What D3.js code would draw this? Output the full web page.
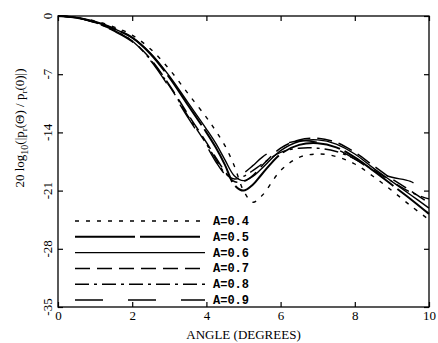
<!DOCTYPE html>
<html>
<head>
<meta charset="utf-8">
<script src="https://cdn.jsdelivr.net/npm/d3@7"></script>
<style>
  body { margin: 0; background: #fff; }
  svg { display: block; }
  text { font-family: "Liberation Serif", "DejaVu Serif", serif; fill: #000; }
</style>
</head>
<body>
<div id="chart"></div>
<script>
// angle grid (degrees)
const angles = [0, 0.5, 1, 1.5, 2, 2.5, 3, 3.5, 4, 4.25, 4.5, 4.75, 5, 5.25, 5.5, 6, 6.5, 7, 7.5, 8, 8.5, 9, 9.5, 10];

// level in dB for each A value
const a04 = [0, -0.2, -0.6, -1.3, -2.3, -4.0, -6.4, -9.3, -12.2, -13.8, -15.6, -18.0, -21.0, -22.4, -21.6, -18.6, -17.0, -16.6, -16.9, -17.8, -19.3, -21.0, -22.8, -24.5];
const a05 = [0, -0.2, -0.7, -1.5, -2.6, -4.6, -7.4, -10.7, -14.0, -15.8, -17.9, -20.3, -21.0, -20.3, -19.0, -16.6, -15.5, -15.3, -15.8, -17.0, -18.6, -20.3, -22.0, -23.8];
const a06 = [0, -0.2, -0.7, -1.5, -2.6, -4.5, -7.2, -10.4, -13.6, -15.3, -17.3, -19.2, -19.8, -19.3, -18.3, -16.2, -15.1, -14.9, -15.4, -16.6, -18.3, -19.9, -21.5, -23.1];
const a07 = [0, -0.2, -0.8, -1.7, -3.0, -5.2, -8.3, -11.8, -15.2, -17.0, -18.7, -19.9, -19.9, -19.2, -18.0, -15.9, -14.9, -14.7, -15.2, -16.4, -18.0, -19.6, -21.0, -22.5];
const a08 = [0, -0.2, -0.8, -1.7, -3.0, -5.3, -8.4, -12.0, -15.4, -17.2, -18.9, -19.6, -19.3, -18.6, -17.8, -16.4, -15.9, -15.9, -16.3, -17.2, -18.5, -19.9, -21.2, -22.0];
const a09 = [0, -0.2, -0.8, -1.8, -3.1, -5.4, -8.6, -12.2, -15.6, -17.5, -19.0, -19.5, -18.9, -18.0, -17.0, -15.6, -15.0, -15.2, -16.0, -17.2, -18.6, -19.4, -19.9, -21.3];

const legendLabels = ["A=0.4", "A=0.5", "A=0.6", "A=0.7", "A=0.8", "A=0.9"];
const xTicks = [0, 2, 4, 6, 8, 10];
const yTicks = [0, -7, -14, -21, -28, -35];

const seriesValues = [a04, a05, a06, a07, a08, a09];
// line styles, same order as the labels
const dashes = ["4,7", "60,5", null, "15,7", "14,5,3,5", "28,25"];
const widths = [1.4, 2, 1.4, 1.5, 1.4, 1.4];

const W = 438, H = 343;
const svg = d3.select("#chart").append("svg")
  .attr("width", W).attr("height", H);

const x = d3.scaleLinear().domain([0, 10]).range([58, 429]);
const y = d3.scaleLinear().domain([-35, 0]).range([307, 16]);

// frame
svg.append("rect")
  .attr("x", x(0)).attr("y", y(0))
  .attr("width", x(10) - x(0)).attr("height", y(-35) - y(0))
  .attr("fill", "none").attr("stroke", "#000").attr("stroke-width", 1.3);

// axes, ticks drawn inward
const xb = svg.append("g").attr("transform", `translate(0,${y(-35)})`)
  .call(d3.axisBottom(x).tickValues(xTicks).tickSize(-5).tickPadding(4).tickFormat(d3.format("d")));
const xt = svg.append("g").attr("transform", `translate(0,${y(0)})`)
  .call(d3.axisTop(x).tickValues(xTicks).tickSize(-5).tickFormat(""));
const yl = svg.append("g").attr("transform", `translate(${x(0)},0)`)
  .call(d3.axisLeft(y).tickValues(yTicks).tickSize(-5).tickFormat(""));
const yr = svg.append("g").attr("transform", `translate(${x(10)},0)`)
  .call(d3.axisRight(y).tickValues(yTicks).tickSize(-5).tickFormat(""));

[xb, xt, yl, yr].forEach(g => {
  g.select(".domain").remove();
  g.selectAll("line").attr("stroke", "#000").attr("stroke-width", 1.2);
});
xb.selectAll("text")
  .style("font-family", "Liberation Serif, serif").style("font-size", "13px");

// y tick labels, rotated like the original
svg.append("g").selectAll("text")
  .data(yTicks)
  .join("text")
  .attr("transform", d => `translate(${x(0) - 6},${y(d)}) rotate(-90)`)
  .attr("text-anchor", "middle")
  .style("font-size", "13px")
  .text(d => d);

// axis titles
svg.append("text")
  .attr("x", (x(0) + x(10)) / 2)
  .attr("y", 339)
  .attr("text-anchor", "middle")
  .style("font-size", "13px")
  .text("ANGLE (DEGREES)");

const yTitle = svg.append("text")
  .attr("transform", `translate(24,128) rotate(-90)`)
  .attr("text-anchor", "middle")
  .style("font-size", "13px");
yTitle.append("tspan").text("20 log");
yTitle.append("tspan").attr("dy", 4).style("font-size", "10px").text("10");
yTitle.append("tspan").attr("dy", -4).text("(|p");
yTitle.append("tspan").attr("dy", 3).style("font-size", "9px").text("r");
yTitle.append("tspan").attr("dy", -3).text("(\u0398) / p");
yTitle.append("tspan").attr("dy", 3).style("font-size", "9px").text("r");
yTitle.append("tspan").attr("dy", -3).text("(0)|)");

// curves
const line = d3.line()
  .x(d => x(d[0]))
  .y(d => y(d[1]))
  .curve(d3.curveCatmullRom.alpha(0.5));

seriesValues.forEach((vals, i) => {
  svg.append("path")
    .datum(angles.map((a, j) => [a, vals[j]]))
    .attr("d", line)
    .attr("fill", "none")
    .attr("stroke", "#000")
    .attr("stroke-width", widths[i])
    .attr("stroke-dasharray", dashes[i]);
});

// legend
const lg = svg.append("g");
legendLabels.forEach((lab, i) => {
  const ly = 221 + i * 15.8;
  lg.append("line")
    .attr("x1", 75).attr("x2", 205)
    .attr("y1", ly).attr("y2", ly)
    .attr("stroke", "#000")
    .attr("stroke-width", widths[i])
    .attr("stroke-dasharray", dashes[i]);
  lg.append("text")
    .attr("x", 213).attr("y", ly + 4)
    .style("font-family", "Liberation Mono, monospace")
    .style("font-size", "12px")
    .style("font-weight", "bold")
    .text(lab);
});
</script>
</body>
</html>
